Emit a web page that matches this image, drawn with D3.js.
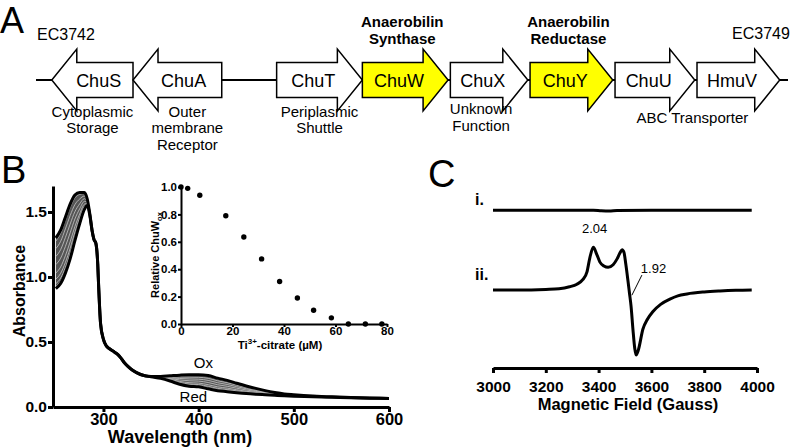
<!DOCTYPE html>
<html>
<head>
<meta charset="utf-8">
<script src="https://cdn.jsdelivr.net/npm/d3@7"></script>
<style>
  body { margin: 0; background: #fff; }
  svg { font-family: "Liberation Sans", Arial, sans-serif; }
</style>
</head>
<body>
<script>
// ---- panel A: chu gene cluster (map units 0..100) ----
const geneNames = ['ChuS', 'ChuA', 'ChuT', 'ChuW', 'ChuX', 'ChuY', 'ChuU', 'HmuV'];
const geneStart = [2.1, 12.9, 32.0, 43.4, 55.1, 65.7, 77.0, 87.9];
const geneEnd   = [12.9, 24.7, 43.4, 54.8, 65.4, 76.7, 87.6, 98.9];
const geneStrand = [-1, -1, 1, 1, 1, 1, 1, 1];
const geneHighlight = [false, false, false, true, false, true, false, false];
const geneRoles = [['Cytoplasmic', 'Storage'], ['Outer', 'membrane', 'Receptor'], ['Periplasmic', 'Shuttle'], [], ['Unknown', 'Function'], [], [], []];
const enzymeNames = [null, null, null, ['Anaerobilin', 'Synthase'], null, ['Anaerobilin', 'Reductase'], null, null];

// ---- panel B: UV-vis titration ----
const wavelengths = [250,255,260,265,270,275,280,283,286,288,290,292,294,295,296,297,300,303,306,310,314,318,322,326,331,339,350,360,370,380,390,400,410,420,430,440,450,460,470,480,490,500,520,540,560,580,600];
const oxAbs  = [1.30,1.36,1.46,1.56,1.63,1.65,1.65,1.60,1.47,1.36,1.29,1.26,1.10,0.92,0.76,0.64,0.52,0.47,0.45,0.43,0.41,0.38,0.34,0.31,0.28,0.25,0.235,0.235,0.24,0.245,0.248,0.248,0.242,0.222,0.205,0.183,0.162,0.143,0.126,0.112,0.101,0.095,0.085,0.078,0.073,0.069,0.066];
const redAbs = [0.91,0.95,1.03,1.14,1.28,1.41,1.52,1.55,1.46,1.36,1.29,1.26,1.10,0.92,0.76,0.64,0.52,0.47,0.45,0.43,0.41,0.38,0.34,0.31,0.28,0.25,0.232,0.22,0.2,0.175,0.16,0.155,0.14,0.125,0.118,0.11,0.103,0.098,0.094,0.09,0.086,0.083,0.079,0.075,0.071,0.068,0.065];

// inset: fraction oxidised vs Ti(III) citrate added
const tiConc = [0, 2.6, 7.3, 17.4, 24.4, 31.3, 38.3, 45.2, 51.5, 58.4, 65, 71.6, 78];
const relOx  = [1.0, 0.99, 0.94, 0.79, 0.635, 0.475, 0.31, 0.19, 0.10, 0.045, 0, 0, 0];

// ---- panel C: EPR ----
const fieldI = [3000, 3200, 3380, 3410, 3440, 3470, 3600, 3800, 3980];
const ampI   = [0, 0, 0, -0.008, -0.012, -0.004, 0, 0, 0];
const fieldII = [3000,3100,3200,3250,3290,3318,3340,3356,3367,3380,3393,3405,3420,3436,3455,3470,3482,3489,3496,3503,3511,3517,3523,3530,3537,3542,3550,3568,3585,3606,3635,3670,3700,3735,3800,3860,3920,3980];
const ampII   = [0,0,0.01,0.02,0.05,0.09,0.16,0.28,0.5,0.66,0.55,0.43,0.37,0.35,0.39,0.48,0.58,0.62,0.58,0.4,0.15,-0.05,-0.25,-0.6,-0.9,-1.0,-0.93,-0.6,-0.45,-0.33,-0.22,-0.14,-0.09,-0.06,-0.03,-0.015,-0.005,0];
const traceOffset = 1.23;

const svg = d3.select('body').append('svg')
  .attr('width', 796)
  .attr('height', 448);

function styleAxis(g, w, size) {
  g.select('.domain').attr('stroke', '#000').attr('stroke-width', w);
  g.selectAll('.tick line').attr('stroke', '#000').attr('stroke-width', w);
  g.selectAll('.tick text').attr('fill', '#000').attr('font-weight', 'bold')
    .attr('font-size', size).attr('font-family', '"Liberation Sans", Arial, sans-serif');
}

// ================= A =================
svg.append('text').attr('x', 0).attr('y', 33).attr('font-size', 36).text('A');

const xA = d3.scaleLinear().domain([0, 100]).range([36, 788]);
const yMid = 80, bodyH = 17.5, headH = 31, headL = 25;

svg.append('line')
  .attr('x1', xA(0)).attr('x2', xA(100))
  .attr('y1', yMid).attr('y2', yMid)
  .attr('stroke', '#000').attr('stroke-width', 2);

const genes = geneNames.map((n, i) => ({
  name: n, s: xA(geneStart[i]), e: xA(geneEnd[i]), dir: geneStrand[i],
  hl: geneHighlight[i], role: geneRoles[i], enz: enzymeNames[i]
}));

function arrowPts(g) {
  if (g.dir > 0) {
    const hb = g.e - headL;
    return [[g.s, yMid - bodyH], [hb, yMid - bodyH], [hb, yMid - headH], [g.e, yMid],
            [hb, yMid + headH], [hb, yMid + bodyH], [g.s, yMid + bodyH]];
  }
  const hb = g.s + headL;
  return [[g.e, yMid - bodyH], [hb, yMid - bodyH], [hb, yMid - headH], [g.s, yMid],
          [hb, yMid + headH], [hb, yMid + bodyH], [g.e, yMid + bodyH]];
}

svg.selectAll('.gene').data(genes).enter().append('path')
  .attr('class', 'gene')
  .attr('d', d => d3.line()(arrowPts(d)) + 'Z')
  .attr('fill', d => d.hl ? '#ffff00' : '#fff')
  .attr('stroke', '#000').attr('stroke-width', 1.5);

svg.selectAll('.gname').data(genes).enter().append('text')
  .attr('x', d => {
    const mid = (d.s + d.e) / 2;
    const body = d.dir > 0 ? (d.s + d.e - headL) / 2 : (d.s + headL + d.e) / 2;
    return (mid + body) / 2;
  })
  .attr('y', yMid + 6.5)
  .attr('text-anchor', 'middle').attr('font-size', 18)
  .text(d => d.name);

genes.forEach((g, i) => {
  const cx = (g.s + g.e) / 2 + (g.name === 'ChuA' ? 10 : 0) + (g.name === 'ChuX' ? -8 : 0);
  const y0 = g.name === 'ChuX' ? 114 : 116.5;
  g.role.forEach((t, k) => {
    svg.append('text').attr('x', cx).attr('y', y0 + k * 16.8)
      .attr('text-anchor', 'middle').attr('font-size', 15).text(t);
  });
  if (g.enz) {
    g.enz.forEach((t, k) => {
      svg.append('text').attr('x', (g.s + g.e) / 2 - 3).attr('y', 27 + k * 17)
        .attr('text-anchor', 'middle').attr('font-size', 15).attr('font-weight', 'bold').text(t);
    });
  }
});
// ABC transporter spans ChuU + HmuV
svg.append('text').attr('x', (genes[6].s + genes[7].e) / 2 - 5).attr('y', 123)
  .attr('text-anchor', 'middle').attr('font-size', 15).text('ABC Transporter');
svg.append('text').attr('x', 37).attr('y', 40).attr('font-size', 16).text('EC3742');
svg.append('text').attr('x', 732).attr('y', 39).attr('font-size', 16).text('EC3749');

// ================= B =================
svg.append('text').attr('x', 1).attr('y', 183).attr('font-size', 38).text('B');

const xB = d3.scaleLinear().domain([247, 600]).range([53, 389]);
const yB = d3.scaleLinear().domain([0, 1.7]).range([407, 186]);

const specPts = wavelengths.map((w, i) => ({ w: w, ox: oxAbs[i], red: redAbs[i] }));

svg.append('path').datum(specPts)
  .attr('d', d3.area().curve(d3.curveMonotoneX)
    .x(d => xB(d.w)).y0(d => yB(d.red)).y1(d => yB(d.ox)))
  .attr('fill', '#555');

// intermediate spectra at the titration points of the inset
const mixF = relOx.filter(f => f > 0 && f < 1);
svg.selectAll('.mid').data(mixF).enter().append('path')
  .attr('class', 'mid')
  .attr('d', f => d3.line().curve(d3.curveMonotoneX)
    .x(d => xB(d.w)).y(d => yB(f * d.ox + (1 - f) * d.red))(specPts))
  .attr('fill', 'none').attr('stroke', '#c8c8c8').attr('stroke-width', 0.8);

['ox', 'red'].forEach(k => {
  svg.append('path').datum(specPts)
    .attr('d', d3.line().curve(d3.curveMonotoneX).x(d => xB(d.w)).y(d => yB(d[k])))
    .attr('fill', 'none').attr('stroke', '#000').attr('stroke-width', 3)
    .attr('stroke-linejoin', 'round');
});

const gyB = svg.append('g').attr('transform', 'translate(53,0)')
  .call(d3.axisLeft(yB).tickValues([0, 0.5, 1.0, 1.5]).tickFormat(d3.format('.1f'))
    .tickSize(5).tickPadding(1).tickSizeOuter(0));
styleAxis(gyB, 3, 15.5);
const gxB = svg.append('g').attr('transform', 'translate(0,407)')
  .call(d3.axisBottom(xB).tickValues([300, 400, 500, 600]).tickFormat(d3.format('d'))
    .tickSize(5).tickPadding(1).tickSizeOuter(0));
styleAxis(gxB, 3, 16.5);

svg.append('text').attr('transform', 'translate(25,291) rotate(-90)')
  .attr('text-anchor', 'middle').attr('font-size', 16).attr('font-weight', 'bold').text('Absorbance');
svg.append('text').attr('x', 180).attr('y', 443)
  .attr('text-anchor', 'middle').attr('font-size', 18).attr('font-weight', 'bold').text('Wavelength (nm)');

svg.append('text').attr('x', xB(405)).attr('y', yB(0.3)).attr('text-anchor', 'middle')
  .attr('font-size', 15).text('Ox');
svg.append('text').attr('x', xB(380)).attr('y', yB(0.038))
  .attr('font-size', 15).text('Red');

// inset
const xI = d3.scaleLinear().domain([0, 80]).range([181, 387]);
const yI = d3.scaleLinear().domain([0, 1]).range([324, 187]);

const gyI = svg.append('g').attr('transform', 'translate(181,0)')
  .call(d3.axisLeft(yI).tickValues([0, 0.2, 0.4, 0.6, 0.8, 1.0]).tickFormat(d3.format('.1f'))
    .tickSize(3).tickPadding(1).tickSizeOuter(0));
styleAxis(gyI, 2, 11.5);
const gxI = svg.append('g').attr('transform', 'translate(0,324)')
  .call(d3.axisBottom(xI).tickValues([0, 20, 40, 60, 80]).tickSize(3).tickPadding(0).tickSizeOuter(0));
styleAxis(gxI, 2, 11.5);

svg.selectAll('.dot').data(tiConc).enter().append('circle')
  .attr('class', 'dot')
  .attr('cx', d => xI(d)).attr('cy', (d, i) => yI(relOx[i]))
  .attr('r', 2.7).attr('fill', '#000');

const ttl = svg.append('text').attr('transform', 'translate(159,255) rotate(-90)')
  .attr('text-anchor', 'middle').attr('font-size', 11).attr('font-weight', 'bold');
ttl.append('tspan').text('Relative ChuW');
ttl.append('tspan').attr('font-size', 7.5).attr('dy', 3).text('ox');

const xt = svg.append('text').attr('x', 280).attr('y', 349)
  .attr('text-anchor', 'middle').attr('font-size', 11.5).attr('font-weight', 'bold');
xt.append('tspan').text('Ti');
xt.append('tspan').attr('font-size', 8).attr('dy', -5).text('3+');
xt.append('tspan').attr('dy', 5).text('-citrate (\u00b5M)');

// ================= C =================
svg.append('text').attr('x', 428).attr('y', 187).attr('font-size', 38).text('C');

const xC = d3.scaleLinear().domain([3000, 4000]).range([493, 757]);
const yC = d3.scaleLinear().domain([-1.2, 1.54]).range([368, 190]);

const eprLine = d3.line().curve(d3.curveMonotoneX);
svg.append('path')
  .attr('d', eprLine(fieldI.map((f, i) => [xC(f), yC(ampI[i] + traceOffset)])))
  .attr('fill', 'none').attr('stroke', '#000').attr('stroke-width', 3);
svg.append('path')
  .attr('d', eprLine(fieldII.map((f, i) => [xC(f), yC(ampII[i])])))
  .attr('fill', 'none').attr('stroke', '#000').attr('stroke-width', 3)
  .attr('stroke-linejoin', 'round');

const gxC = svg.append('g').attr('transform', 'translate(0,368)')
  .call(d3.axisBottom(xC).tickValues(d3.range(3000, 4001, 200)).tickFormat(d3.format('d'))
    .tickSize(5).tickPadding(8).tickSizeOuter(0));
styleAxis(gxC, 3, 15.5);

svg.append('text').attr('x', 628).attr('y', 410)
  .attr('text-anchor', 'middle').attr('font-size', 16.5).attr('font-weight', 'bold').text('Magnetic Field (Gauss)');

svg.append('text').attr('x', 475).attr('y', 205).attr('font-size', 16).attr('font-weight', 'bold').text('i.');
svg.append('text').attr('x', 475).attr('y', 280).attr('font-size', 16).attr('font-weight', 'bold').text('ii.');

svg.append('text').attr('x', xC(3385)).attr('y', yC(0.88)).attr('text-anchor', 'middle')
  .attr('font-size', 13).text('2.04');
svg.append('text').attr('x', xC(3560)).attr('y', yC(0.26))
  .attr('font-size', 13).text('1.92');
svg.append('line')
  .attr('x1', xC(3526)).attr('y1', yC(-0.08))
  .attr('x2', xC(3564)).attr('y2', yC(0.23))
  .attr('stroke', '#000').attr('stroke-width', 1);
</script>
</body>
</html>
